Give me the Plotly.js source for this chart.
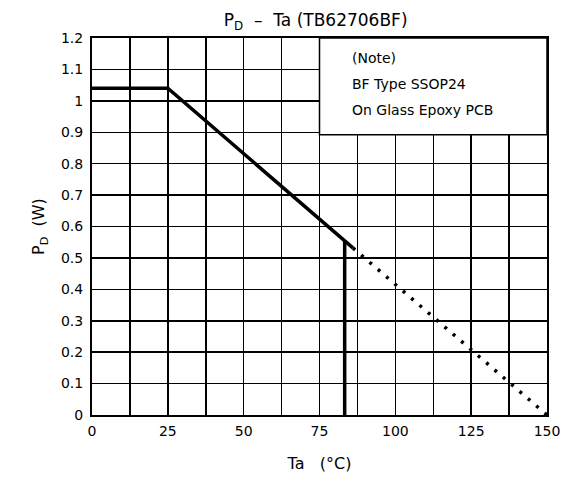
<!DOCTYPE html>
<html>
<head>
<meta charset="utf-8">
<script src="https://cdn.plot.ly/plotly-3.0.1.min.js"></script>
<style>html,body{margin:0;padding:0;background:#fff;}#chart{width:576px;height:486px;}</style>
</head>
<body>
<div id="chart"></div>
<script>
// Derating curve (solid part)
const solidTa = [0, 25, 86];
const solidPd = [1.04, 1.04, 0.532];
// Vertical limit line
const limitTa = [83.3, 83.3];
const limitPd = [0, 0.555];
// Dotted extension
const dotTa = [86, 150];
const dotPd = [0.532, 0];

const xTickVals = [0, 25, 50, 75, 100, 125, 150];
const xTickText = ['0', '25', '50', '75', '100', '125', '150'];
const yTickVals = [0, 0.1, 0.2, 0.3, 0.4, 0.5, 0.6, 0.7, 0.8, 0.9, 1, 1.1, 1.2];
const yTickText = ['0', '0.1', '0.2', '0.3', '0.4', '0.5', '0.6', '0.7', '0.8', '0.9', '1', '1.1', '1.2'];
const noteLines = ['(Note)', 'BF Type SSOP24', 'On Glass Epoxy PCB'];

const FONT = 'DejaVu Sans, sans-serif';

const traces = [
  {x: solidTa, y: solidPd, mode: 'lines', line: {color: '#000', width: 3.5}, hoverinfo: 'skip'},
  {x: limitTa, y: limitPd, mode: 'lines', line: {color: '#000', width: 3.5}, hoverinfo: 'skip'},
  {x: dotTa, y: dotPd, mode: 'lines', line: {color: '#000', width: 3.5, dash: '3px,8px'}, hoverinfo: 'skip'}
];

const layout = {
  width: 576, height: 486,
  margin: {l: 92, r: 29, t: 38, b: 71},
  paper_bgcolor: '#fff', plot_bgcolor: '#fff',
  showlegend: false,
  font: {family: FONT, color: '#000', size: 14},
  title: {text: 'P<sub>D</sub>  –  Ta (TB62706BF)', font: {family: FONT, size: 17, color: '#000'},
          x: 0.548, xanchor: 'center', y: 0.958, yanchor: 'middle'},
  xaxis: {
    range: [0, 150], tickvals: xTickVals, ticktext: xTickText,
    showgrid: true, gridcolor: '#000', gridwidth: 1.5, zeroline: false,
    minor: {dtick: 12.5, tick0: 0, showgrid: true, gridcolor: '#000', gridwidth: 1.5, ticks: ''},
    showline: true, linecolor: '#000', linewidth: 2, mirror: true,
    ticks: '', ticklabelstandoff: 2, tickfont: {size: 14},
    title: {text: 'Ta   (°C)', font: {size: 16}, standoff: 20}
  },
  yaxis: {
    range: [0, 1.2], tickvals: yTickVals, ticktext: yTickText,
    showgrid: true, gridcolor: '#000', gridwidth: 1.5, zeroline: false,
    showline: true, linecolor: '#000', linewidth: 2, mirror: true,
    ticks: '', ticklabelstandoff: 4, tickfont: {size: 14},
    title: {text: 'P<sub>D</sub>  (W)', font: {size: 16}, standoff: 12}
  },
  shapes: [
    {type: 'rect', xref: 'x', yref: 'y', x0: 75, x1: 150, y0: 0.892, y1: 1.2,
     fillcolor: '#fff', line: {color: '#000', width: 1.5}, layer: 'above'}
  ],
  annotations: noteLines.map((t, i) => ({
    xref: 'paper', yref: 'paper', x: (350 - 92) / 455, y: 1 - (10 + i * 26) / 377,
    xanchor: 'left', yanchor: 'top', text: t, showarrow: false,
    font: {family: FONT, size: 14, color: '#000'}
  }))
};

Plotly.newPlot('chart', traces, layout, {staticPlot: true});
</script>
</body>
</html>
